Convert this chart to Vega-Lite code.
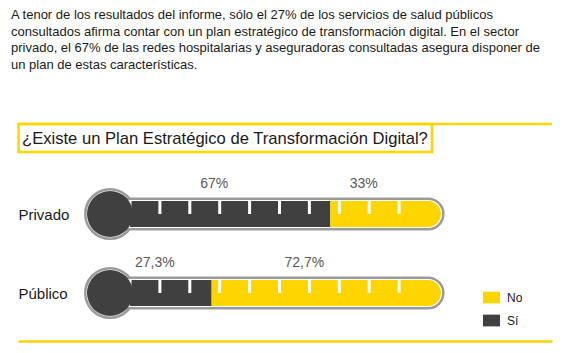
{
  "$schema": "https://vega.github.io/schema/vega-lite/v6.json",
  "width": 534,
  "height": 217,
  "autosize": {"type": "none"},
  "padding": {"left": 18, "top": 124, "right": 34, "bottom": 12},
  "background": "white",
  "title": {
    "text": [
      "A tenor de los resultados del informe, sólo el 27% de los servicios de salud públicos",
      "consultados afirma contar con un plan estratégico de transformación digital. En el sector",
      "privado, el 67% de las redes hospitalarias y aseguradoras consultadas asegura disponer de",
      "un plan de estas características."
    ],
    "anchor": "start",
    "frame": "group",
    "orient": "top",
    "font": "Liberation Sans",
    "fontSize": 13,
    "fontWeight": "normal",
    "color": "#1a1a1a",
    "lineHeight": 16.5,
    "offset": 51,
    "dx": -7
  },
  "datasets": {
    "termometro": [
      {"sector": "Privado", "respuesta": "Sí", "pct": 0.67},
      {"sector": "Privado", "respuesta": "No", "pct": 0.33},
      {"sector": "Público", "respuesta": "Sí", "pct": 0.273},
      {"sector": "Público", "respuesta": "No", "pct": 0.727}
    ],
    "marcas": [
      {"v": 0}, {"v": 0.1}, {"v": 0.2}, {"v": 0.3}, {"v": 0.4},
      {"v": 0.5}, {"v": 0.6}, {"v": 0.7}, {"v": 0.8}, {"v": 0.9}
    ]
  },
  "data": {"name": "termometro"},
  "layer": [
    {
      "data": {"values": [{}]},
      "mark": {"type": "rule", "color": "#FFD500", "strokeWidth": 2.5, "yOffset": -11},
      "encoding": {
        "x": {"datum": -0.37458, "type": "quantitative"},
        "x2": {"datum": 1.41137},
        "y": {"datum": "Pregunta", "type": "nominal"}
      }
    },
    {
      "data": {"values": [{}]},
      "mark": {"type": "bar", "filled": false, "stroke": "#FFD500", "strokeWidth": 2.5, "size": 28, "yOffset": 3, "opacity": 1},
      "encoding": {
        "x": {"datum": -0.3726, "type": "quantitative"},
        "x2": {"datum": 1.01},
        "y": {"datum": "Pregunta", "type": "nominal"}
      }
    },
    {
      "data": {"values": [{}]},
      "mark": {"type": "text", "align": "left", "baseline": "middle", "yOffset": 4, "fontSize": 16.6, "color": "#1a1a1a", "font": "Liberation Sans"},
      "encoding": {
        "x": {"datum": -0.3612, "type": "quantitative"},
        "y": {"datum": "Pregunta", "type": "nominal"},
        "text": {"value": "¿Existe un Plan Estratégico de Transformación Digital?"}
      }
    },
    {
      "transform": [{"filter": "datum.respuesta === 'Sí'"}],
      "mark": {"type": "circle", "size": 2450, "fill": "#ffffff", "stroke": "#9B9B9B", "strokeWidth": 2.5, "opacity": 1},
      "encoding": {
        "x": {"datum": -0.06689, "type": "quantitative"},
        "y": {"field": "sector", "type": "nominal", "title": null}
      }
    },
    {
      "transform": [{"filter": "datum.respuesta === 'Sí'"}],
      "mark": {"type": "bar", "size": 30.5, "fill": "#ffffff", "stroke": "#9B9B9B", "strokeWidth": 2.5, "cornerRadius": 15.25, "opacity": 1},
      "encoding": {
        "x": {"datum": -0.06689, "type": "quantitative"},
        "x2": {"datum": 1.048},
        "y": {"field": "sector", "type": "nominal", "title": null}
      }
    },
    {
      "transform": [{"filter": "datum.respuesta === 'Sí'"}],
      "mark": {"type": "bar", "size": 26, "color": "#FFD500", "cornerRadiusEnd": 13, "opacity": 1},
      "encoding": {
        "x": {"datum": 0.9, "type": "quantitative"},
        "x2": {"datum": 1.0401},
        "y": {"field": "sector", "type": "nominal", "title": null}
      }
    },
    {
      "mark": {"type": "bar", "size": 26, "opacity": 1},
      "encoding": {
        "x": {
          "field": "pct", "type": "quantitative", "stack": "zero", "title": null,
          "scale": {"domain": [-0.37458, 1.41137], "nice": false, "zero": false}
        },
        "y": {
          "field": "sector", "type": "nominal", "title": null,
          "scale": {"type": "point", "domain": ["Pregunta", "Privado", "Público"], "range": [11, 169], "padding": 0},
          "axis": {"values": ["Privado", "Público"]}
        },
        "color": {
          "field": "respuesta", "type": "nominal",
          "scale": {"domain": ["No", "Sí"], "range": ["#FFD500", "#404041"]},
          "legend": {
            "orient": "none", "legendX": 465, "legendY": 165, "title": null,
            "symbolType": "M-1,-0.69H1V0.69H-1Z", "symbolSize": 289, "symbolStrokeWidth": 0,
            "labelFontSize": 12, "labelColor": "#1a1a1a", "labelOffset": 7, "rowPadding": 8,
            "padding": 0, "direction": "vertical"
          }
        },
        "order": {"field": "respuesta", "sort": "descending"}
      }
    },
    {
      "data": {"name": "marcas"},
      "mark": {"type": "tick", "color": "#ffffff", "thickness": 3, "size": 13, "yOffset": -6.5, "opacity": 1},
      "encoding": {
        "x": {"field": "v", "type": "quantitative", "title": null},
        "y": {"datum": "Privado", "type": "nominal"}
      }
    },
    {
      "data": {"name": "marcas"},
      "mark": {"type": "tick", "color": "#ffffff", "thickness": 3, "size": 13, "yOffset": -6.5, "opacity": 1},
      "encoding": {
        "x": {"field": "v", "type": "quantitative", "title": null},
        "y": {"datum": "Público", "type": "nominal"}
      }
    },
    {
      "transform": [{"filter": "datum.respuesta === 'Sí'"}],
      "mark": {"type": "circle", "size": 2116, "color": "#404041", "opacity": 1},
      "encoding": {
        "x": {"datum": -0.06689, "type": "quantitative"},
        "y": {"field": "sector", "type": "nominal", "title": null}
      }
    },
    {
      "mark": {"type": "text", "baseline": "middle", "align": "center", "yOffset": -30.5, "dx": -16, "fontSize": 14, "color": "#595959"},
      "encoding": {
        "x": {"field": "pct", "type": "quantitative", "stack": "zero", "bandPosition": 0.5, "title": null},
        "y": {"field": "sector", "type": "nominal", "title": null},
        "order": {"field": "respuesta", "sort": "descending"},
        "text": {"field": "pct", "type": "quantitative", "format": ".1~%"}
      }
    }
  ],
  "config": {
    "font": "Liberation Sans",
    "view": {"stroke": null},
    "axisX": {"domainColor": "#FFD500", "domainWidth": 2.5, "ticks": false, "labels": false, "grid": false},
    "axisY": {"domain": false, "ticks": false, "tickSize": 0, "labelAlign": "left", "labelPadding": 0, "labelFontSize": 15, "labelColor": "#1a1a1a", "grid": false, "labelFont": "Liberation Sans"},
    "locale": {"number": {"decimal": ",", "thousands": ".", "grouping": [3], "currency": ["", " €"]}}
  }
}
